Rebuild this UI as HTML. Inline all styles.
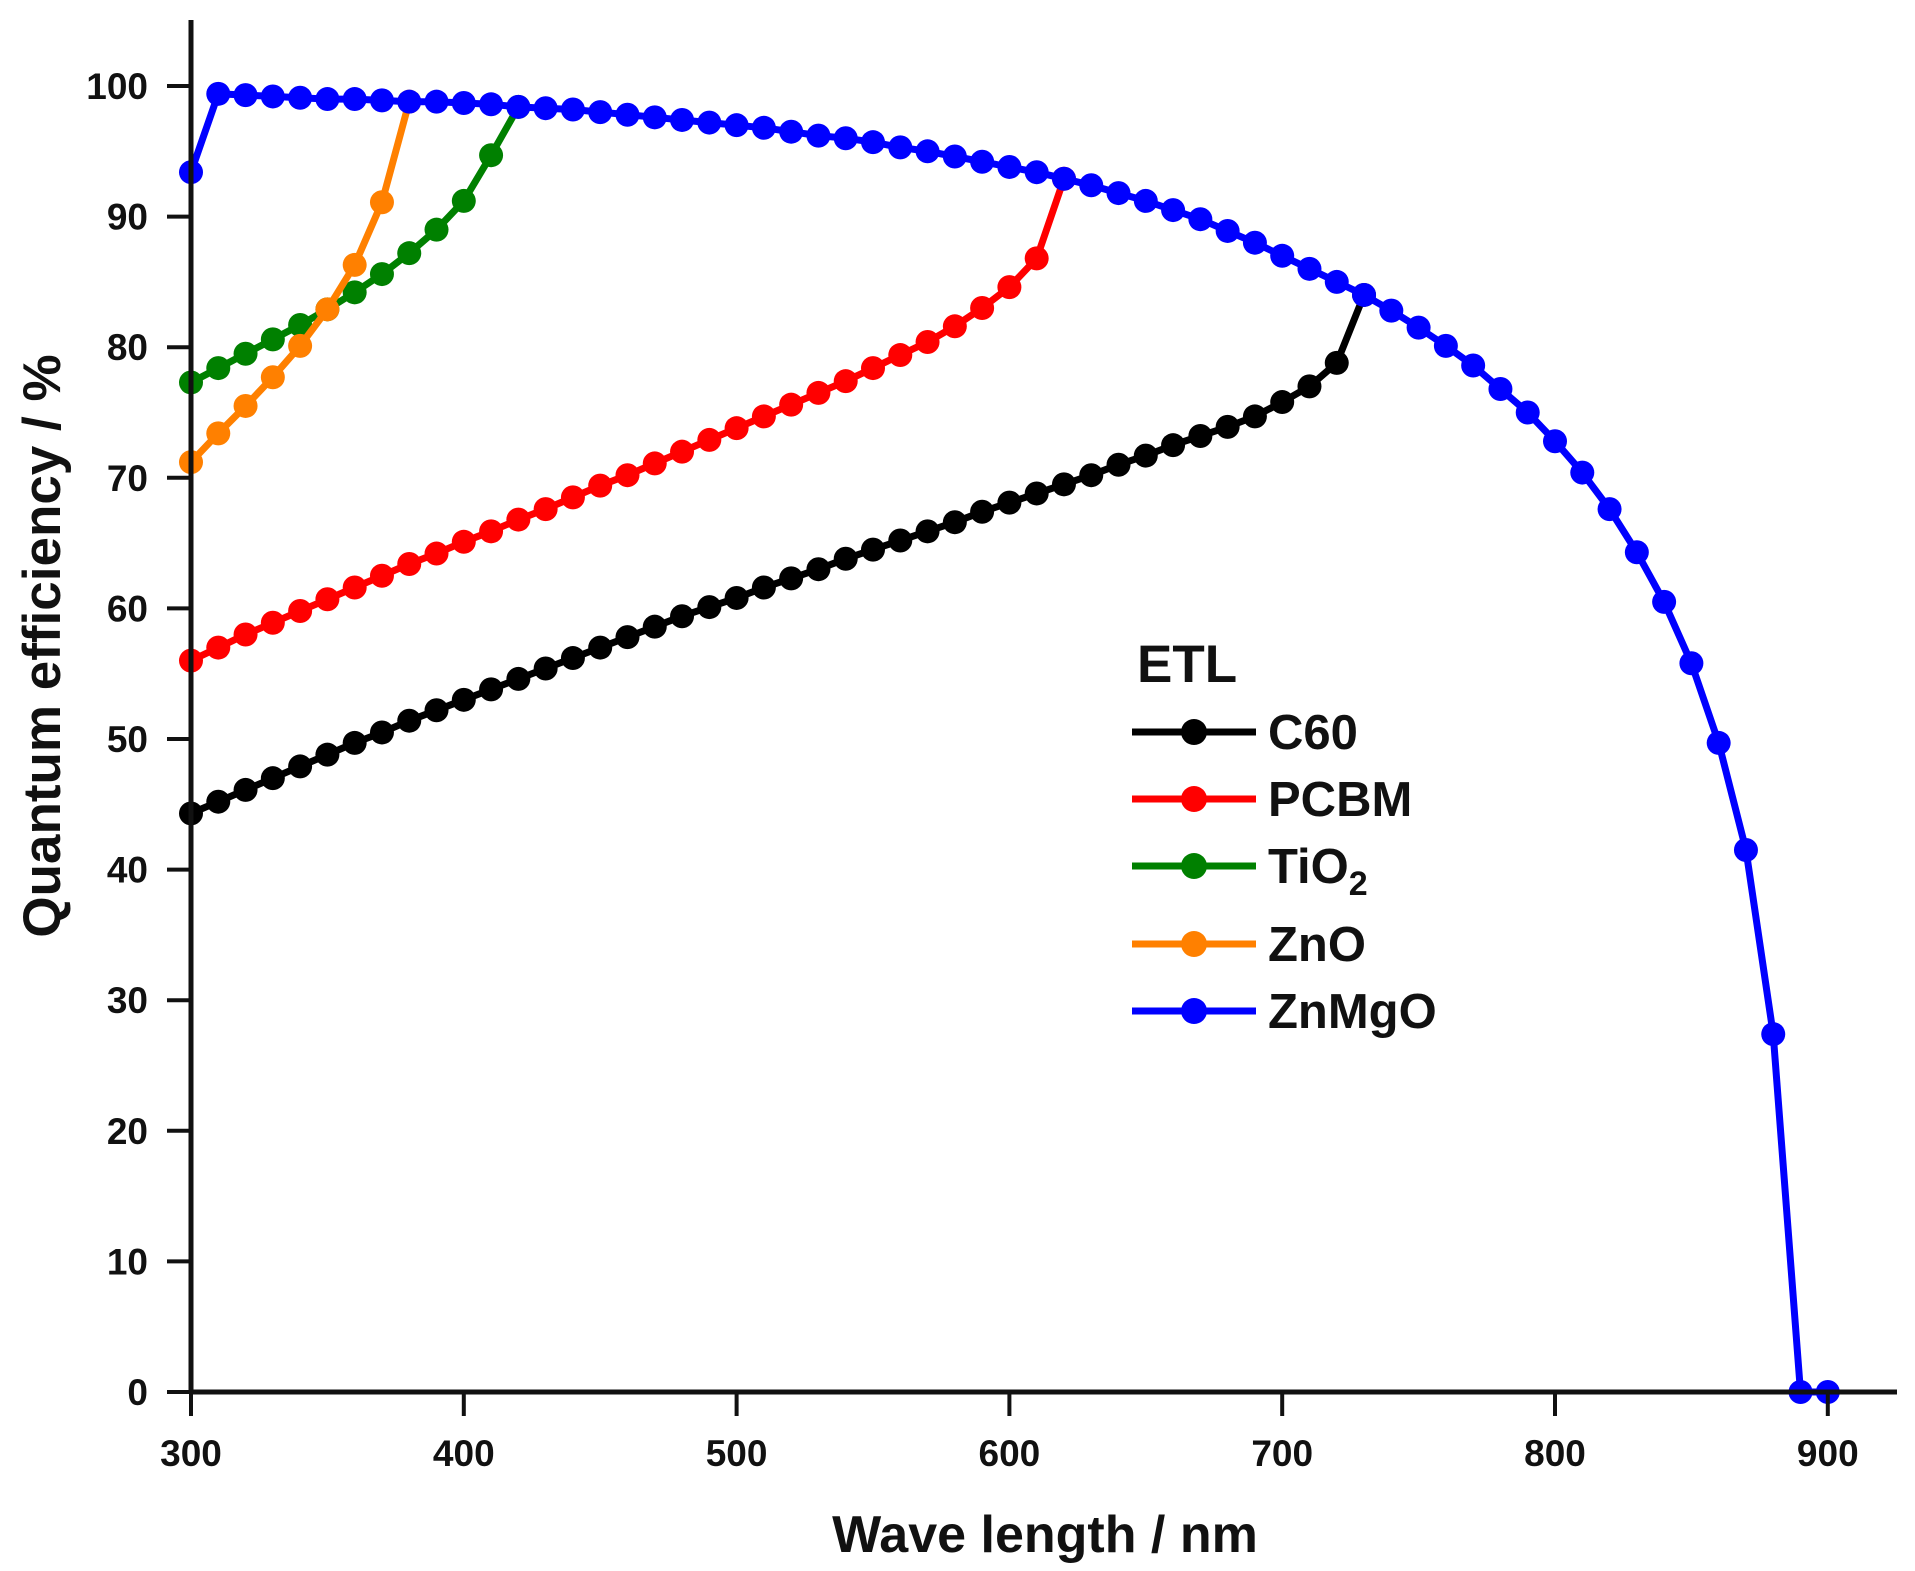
<!DOCTYPE html>
<html><head><meta charset="utf-8"><style>
html,body{margin:0;padding:0;background:#fff;}
svg{display:block;font-family:"Liberation Sans",Arial,sans-serif;}
</style></head><body>
<svg id="s" width="1915" height="1571" viewBox="0 0 1915 1571" xmlns="http://www.w3.org/2000/svg">
<g id="plot"></g>
<g stroke="#111" stroke-width="5" fill="none">
<line x1="191" y1="20" x2="191" y2="1394"/>
<line x1="189" y1="1392" x2="1897" y2="1392"/>
</g>
<g id="ticks" stroke="#111" stroke-width="4"></g>
<g id="labels" font-weight="bold" font-size="37" fill="#111"></g>
<text x="1045" y="1552" font-size="52" font-weight="bold" text-anchor="middle" fill="#111">Wave length / nm</text>
<text transform="translate(60,646) rotate(-90)" font-size="53" font-weight="bold" text-anchor="middle" fill="#111">Quantum efficiency / %</text>
<g id="legend" font-size="49" font-weight="bold" fill="#111">
<text x="1137" y="682" font-size="53">ETL</text>
</g>
</svg>
<script>
var NS="http://www.w3.org/2000/svg";
function X(x){return 191+(x-300)*2.728;}
function Y(y){return 1392-y*13.06;}
function el(t,a,p){var e=document.createElementNS(NS,t);for(var k in a)e.setAttribute(k,a[k]);p.appendChild(e);return e;}
var T=document.getElementById('ticks'),L=document.getElementById('labels');
for(var v=0;v<=100;v+=10){el('line',{x1:167,y1:Y(v),x2:191,y2:Y(v)},T);var t=el('text',{x:148,y:Y(v)+13,'text-anchor':'end'},L);t.textContent=v;}
for(var x=300;x<=900;x+=100){el('line',{x1:X(x),y1:1392,x2:X(x),y2:1416},T);var t=el('text',{x:X(x),y:1466,'text-anchor':'middle'},L);t.textContent=x;}
function seq(start,vals){return vals.map(function(v,i){return [start+10*i,v];});}
var zn=[93.4,99.4,99.3,99.2,99.1,99.0,99.0,98.9,98.8,98.8,98.7,98.6,98.4,98.3,98.2,98.0,97.8,97.6,97.4,97.2,97.0,96.8,96.5,96.2,96.0,95.7,95.3,95.0,94.6,94.2,93.8,93.4,92.9,92.4,91.8,91.2,90.5,89.8,88.9,88.0,87.0,86.0,85.0,84.0,82.8,81.5,80.1,78.6,76.8,75.0,72.8,70.4,67.6,64.3,60.5,55.8,49.7,41.5,27.4,0,0];
var c60=[44.3,45.2,46.1,47.0,47.9,48.8,49.7,50.5,51.4,52.2,53.0,53.8,54.6,55.4,56.2,57.0,57.8,58.6,59.4,60.1,60.8,61.6,62.3,63.0,63.8,64.5,65.2,65.9,66.6,67.4,68.1,68.8,69.5,70.2,71.0,71.7,72.5,73.2,73.9,74.7,75.8,77.0,78.8,84.0];
var pcbm=[56.0,57.0,58.0,58.9,59.8,60.7,61.6,62.5,63.4,64.2,65.1,65.9,66.8,67.6,68.5,69.4,70.2,71.1,72.0,72.9,73.8,74.7,75.6,76.5,77.4,78.4,79.4,80.4,81.6,83.0,84.6,86.8,92.9];
var tio=[77.3,78.4,79.5,80.6,81.7,82.9,84.2,85.6,87.2,89.0,91.2,94.7,98.4];
var zno=[71.2,73.4,75.5,77.7,80.1,82.9,86.3,91.1,98.8];
var P=document.getElementById('plot');
function draw(vals,col){var pts=seq(300,vals);
el('polyline',{points:pts.map(function(p){return X(p[0]).toFixed(1)+','+Y(p[1]).toFixed(1);}).join(' '),fill:'none',stroke:col,'stroke-width':7,'stroke-linejoin':'round'},P);
pts.forEach(function(p){el('circle',{cx:X(p[0]),cy:Y(p[1]),r:12,fill:col},P);});}
draw(c60,'#000');draw(pcbm,'#ff0000');draw(tio,'#008000');draw(zno,'#ff8000');draw(zn,'#0000ff');
var G=document.getElementById('legend');
var items=[['C60','#000',732],['PCBM','#ff0000',799],['TiO','#008000',866],['ZnO','#ff8000',944],['ZnMgO','#0000ff',1011]];
items.forEach(function(it){el('line',{x1:1132,y1:it[2],x2:1256,y2:it[2],stroke:it[1],'stroke-width':7},G);
el('circle',{cx:1194,cy:it[2],r:13,fill:it[1]},G);
var t=el('text',{x:1268,y:it[2]+17},G);t.textContent=it[0];
if(it[0]=='TiO'){var s=el('tspan',{'font-size':34,dy:12},t);s.textContent='2';}});
</script>
</body></html>
